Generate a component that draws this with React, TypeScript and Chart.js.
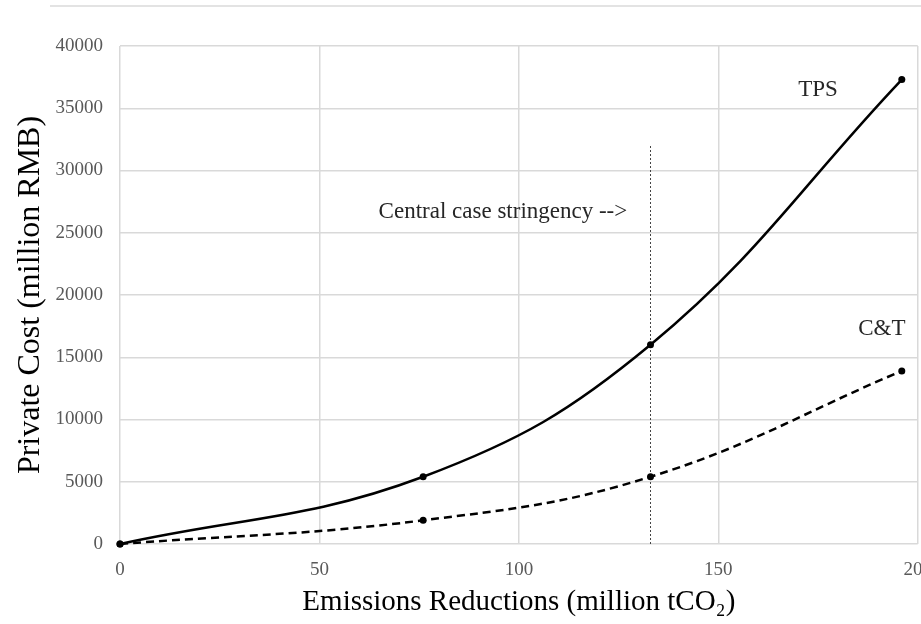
import { useEffect, useRef } from "react";
import { Chart, registerables } from "chart.js";

Chart.register(...registerables);

const tpsX = [0, 76, 133, 196];
const tpsY = [0, 5400, 16000, 37300];
const ctX = [0, 76, 133, 196];
const ctY = [0, 1900, 5400, 13900];
const stringencyX = [133, 133];
const stringencyY = [0, 32000];
const xTickValues = [0, 50, 100, 150, 200];
const yTickValues = [0, 5000, 10000, 15000, 20000, 25000, 30000, 35000, 40000];
const noteTexts = ["TPS", "C&T", "Central case stringency -->"];
const noteX = [175, 191, 96];
const noteY = [36500, 17270, 26670];

const SERIF = "'Liberation Serif', 'Times New Roman', serif";

export default function App() {
  const ref = useRef<HTMLCanvasElement | null>(null);

  useEffect(() => {
    document.documentElement.style.overflow = "hidden";
    document.body.style.overflow = "hidden";
    const canvas = ref.current;
    if (!canvas) return;

    const annot = {
      id: "annot",
      beforeDraw(chart: any) {
        const ctx = chart.ctx;
        ctx.save();
        ctx.strokeStyle = "#e3e3e3";
        ctx.lineWidth = 2;
        ctx.beginPath();
        ctx.moveTo(50, 6);
        ctx.lineTo(chart.width, 6);
        ctx.stroke();
        ctx.restore();
      },
      afterDatasetsDraw(chart: any) {
        const ctx = chart.ctx;
        const xs = chart.scales.x;
        const ys = chart.scales.y;
        ctx.save();
        ctx.fillStyle = "#262626";
        ctx.textAlign = "center";
        ctx.textBaseline = "middle";
        ctx.font = `23px ${SERIF}`;
        noteTexts.forEach((t, i) => {
          ctx.fillText(t, xs.getPixelForValue(noteX[i]), ys.getPixelForValue(noteY[i]));
        });
        ctx.restore();
      },
    };

    const chart = new Chart(canvas, {
      type: "scatter",
      data: {
        datasets: [
          {
            label: "TPS",
            data: tpsX.map((x, i) => ({ x, y: tpsY[i] })),
            showLine: true,
            borderColor: "#000",
            backgroundColor: "#000",
            borderWidth: 2.5,
            tension: 0.4,
            pointRadius: 3.5,
            pointBackgroundColor: "#000",
            pointBorderWidth: 0,
            clip: false,
          },
          {
            label: "C&T",
            data: ctX.map((x, i) => ({ x, y: ctY[i] })),
            showLine: true,
            borderColor: "#000",
            backgroundColor: "#000",
            borderWidth: 2.5,
            borderDash: [8, 5],
            tension: 0.4,
            pointRadius: 3.5,
            pointBackgroundColor: "#000",
            pointBorderWidth: 0,
            clip: false,
          },
          {
            label: "Central case stringency",
            data: stringencyX.map((x, i) => ({ x, y: stringencyY[i] })),
            showLine: true,
            borderColor: "#444",
            borderWidth: 1,
            borderDash: [2, 2],
            pointRadius: 0,
          },
        ],
      },
      options: {
        animation: false,
        responsive: true,
        maintainAspectRatio: false,
        layout: { padding: { top: 46, right: 0, bottom: 0, left: 0 } },
        plugins: { legend: { display: false }, tooltip: { enabled: false } },
        scales: {
          x: {
            type: "linear",
            min: 0,
            max: 200,
            afterBuildTicks: (s: any) => {
              s.ticks = xTickValues.map((v) => ({ value: v }));
            },
            afterFit: (s: any) => {
              s.height = 80;
            },
            ticks: {
              font: { family: SERIF, size: 19 },
              color: "#595959",
              padding: 15,
              callback: (v: any) => String(v),
            },
            grid: { color: "#d9d9d9", lineWidth: 1.5, drawTicks: false },
            border: { display: false },
            title: {
              display: true,
              text: "Emissions Reductions (million tCO₂)",
              font: { family: SERIF, size: 29 },
              color: "#000",
              padding: { top: 0, bottom: 4 },
            },
          },
          y: {
            type: "linear",
            min: 0,
            max: 40000,
            afterBuildTicks: (s: any) => {
              s.ticks = yTickValues.map((v) => ({ value: v }));
            },
            afterFit: (s: any) => {
              s.width = 120;
            },
            ticks: {
              font: { family: SERIF, size: 19 },
              color: "#595959",
              padding: 17,
              callback: (v: any) => String(v),
            },
            grid: { color: "#d9d9d9", lineWidth: 1.5, drawTicks: false },
            border: { display: false },
            title: {
              display: true,
              text: "Private Cost (million RMB)",
              font: { family: SERIF, size: 32 },
              color: "#000",
              padding: { top: 11, bottom: 0 },
            },
          },
        },
      },
      plugins: [annot],
    });

    return () => chart.destroy();
  }, []);

  return (
    <div style={{ position: "absolute", left: 0, top: 0, width: 947, height: 624 }}>
      <canvas ref={ref} />
    </div>
  );
}
